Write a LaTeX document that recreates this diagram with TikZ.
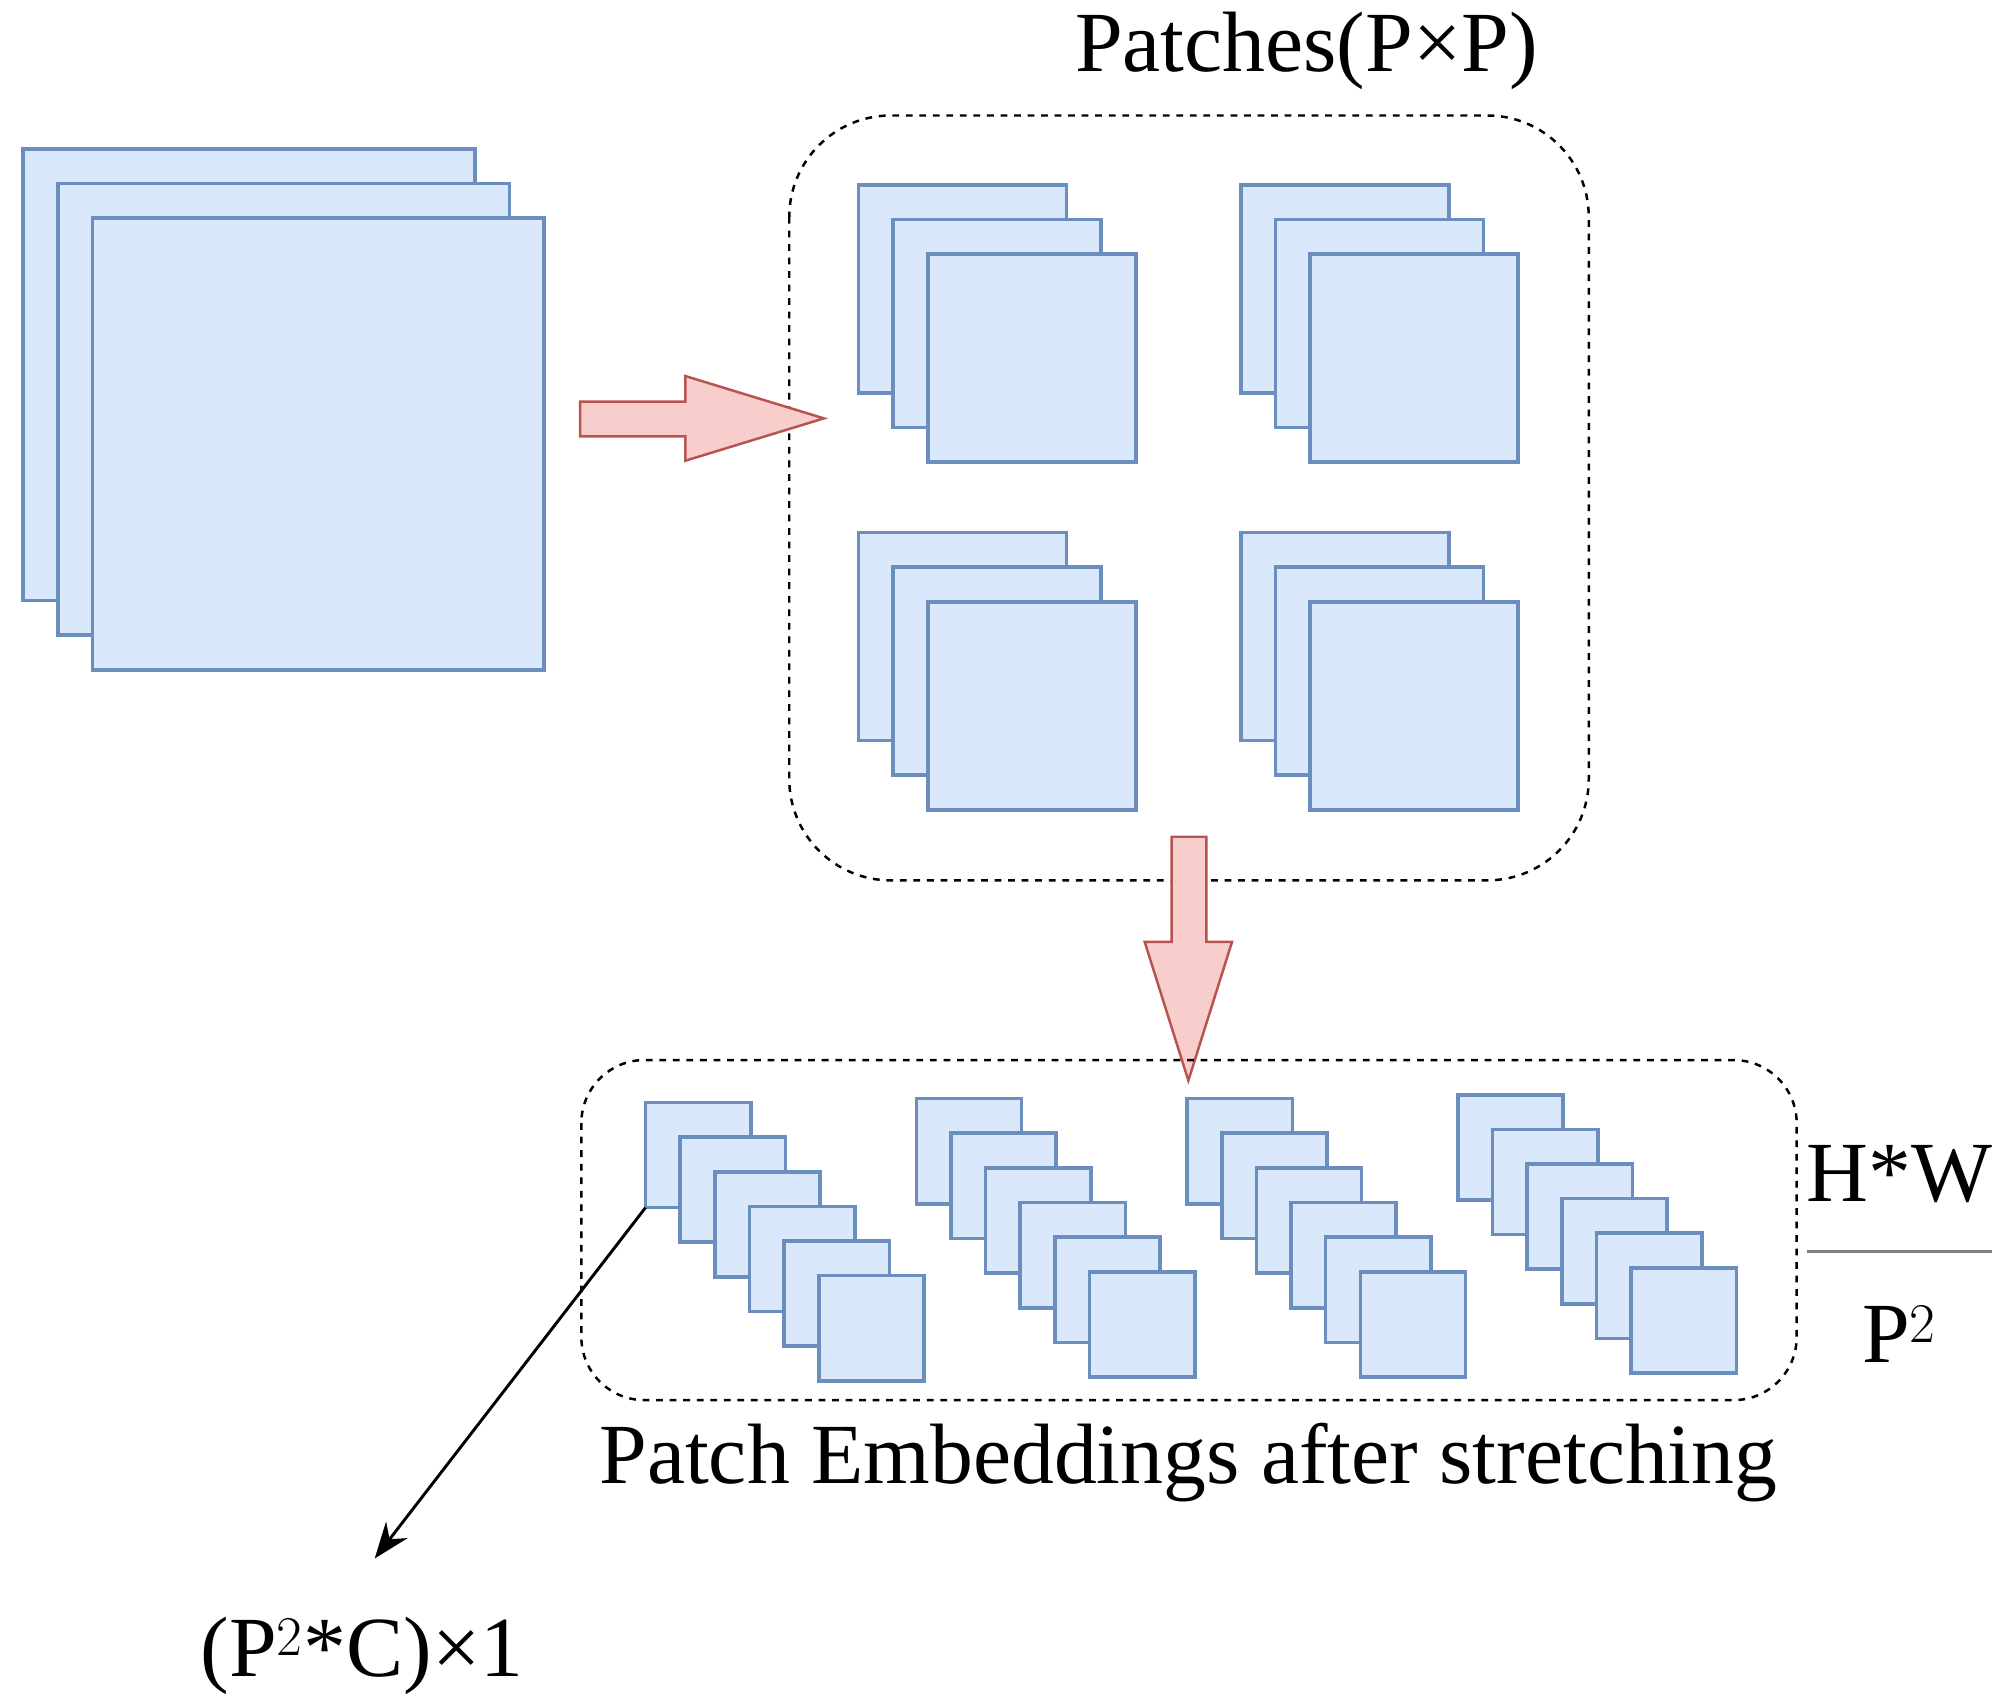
\documentclass[tikz,border=0pt]{standalone}
\usepackage{fontspec}
\setmainfont{Liberation Serif}
\usetikzlibrary{arrows.meta,calc}
\definecolor{bluefill}{HTML}{DAE8FC}
\definecolor{blueline}{HTML}{6C8EBF}
\definecolor{redfill}{HTML}{F8CECC}
\definecolor{redline}{HTML}{B85450}
\begin{document}
\begin{tikzpicture}[
  x=0.02cm, y=-0.02cm,
  sheet/.style = {draw=blueline, fill=bluefill, line width=1.6pt, inner sep=0pt, outer sep=0pt},
  group/.style = {draw, dashed, line width=1.1pt},
  flow/.style = {draw=redline, fill=redfill, line width=1.1pt},
  label/.style = {font=\fontsize{38}{44}\selectfont, inner sep=0pt}
]
  \useasboundingbox (0,0) rectangle (1560,1326);
  % input image
  \foreach \i in {0,1,2}
    \node[sheet, minimum size={352*0.02cm}] (img\i) at ({194+27*\i},{292+27*\i}) {};
  % patches
  \draw[group, rounded corners=45pt] (615,90) rectangle (1238,686);
  \node[label] (title) at (1018,40) {Patches(P×P)};
  \foreach \r in {0,1}
    \foreach \c in {0,1}
      \foreach \i in {0,1,2}
        \node[sheet, minimum size={162*0.02cm}] (p\r\c\i) at ({750+298*\c+27*\i},{225+271*\r+27*\i}) {};
  % arrows
  \draw[flow] (452,313) -- (534,313) -- (534,293) -- (642,326) -- (534,359) -- (534,340) -- (452,340) -- cycle;
  \draw[flow] (913,652) -- (940,652) -- (940,734) -- (960,734) -- (926,842) -- (892,734) -- (913,734) -- cycle;
  % embeddings
  \draw[group, rounded corners=28pt] (453,826) rectangle (1400,1091);
  \foreach \g/\y in {0/900,1/897,2/897,3/894}
    \foreach \i in {0,...,5}
      \node[sheet, minimum size={82*0.02cm}] (e\g\i) at ({544+211*\g+27*\i},{\y+27*\i}) {};
  \node[label] (emb) at (926,1140) {Patch Embeddings after stretching};
  \node[label] (vec) at (282,1290) {(P$^{2}$*C)×1};
  \draw[-{Stealth[length=16pt,width=12pt]}, line width=1.3pt] (e00.south west) -- ($(vec.north)+(10,-45)$);
  % count
  \node[label] (hw) at (1480,915) {H*W};
  \node[label] (p2) at (1480,1040) {P$^{2}$};
  \draw[gray, line width=1.1pt] (1408,975) -- (1552,975);
\end{tikzpicture}
\end{document}
